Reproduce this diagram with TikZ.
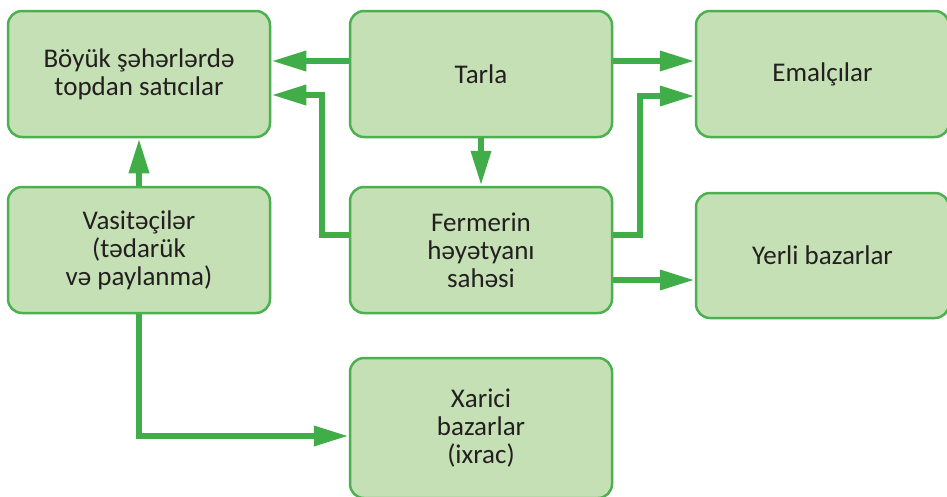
\documentclass[tikz,border=0pt]{standalone}
\usepackage{fontspec}
\setmainfont{Carlito}
\usetikzlibrary{arrows.meta}
\definecolor{boxfill}{HTML}{C5E0B4}
\definecolor{boxline}{HTML}{4CB050}
\definecolor{arrowgreen}{HTML}{41AD49}
\definecolor{txt}{HTML}{231F20}
\tikzset{
  box/.style={draw=boxline, line width=2.5pt, fill=boxfill, rounded corners=14pt,
    minimum width=262pt, minimum height=126pt, align=center, inner sep=0pt,
    text=txt, font=\fontsize{27}{28}\selectfont},
  flow/.style={draw=arrowgreen, line width=6.5pt,
    -{Triangle[length=35pt,width=19pt]}}
}
\begin{document}
\begin{tikzpicture}[x=1pt,y=-1pt]
\useasboundingbox (0,0) rectangle (947,496);
\node[box] (A) at (139,74) {Böyük şəhərlərdə\\topdan satıcılar};
\node[box] (T) at (481,74) {Tarla};
\node[box, minimum width=253pt] (E) at (822.5,74) {Emalçılar};
\node[box] (V) at (139,250) {Vasitəçilər\\(tədarük\\və paylanma)};
\node[box] (F) at (481,250) {Fermerin\\həyətyanı\\sahəsi};
\node[box, minimum width=253pt, minimum height=125pt] (Y) at (822.5,255.5) {Yerli bazarlar};
\node[box, minimum height=140pt] (X) at (481,428) {Xarici\\bazarlar\\(ixrac)};

\draw[flow] (T.west |- 0,61) -- (A.east |- 0,61);
\draw[flow] (F.west |- 0,235) -- (322,235) -- (322,95) -- (A.east |- 0,95);
\draw[flow] (T.south) -- (F.north);
\draw[flow] (V.north) -- (A.south);
\draw[flow] (T.east |- 0,61) -- (E.west |- 0,61);
\draw[flow] (F.east |- 0,235) -- (640,235) -- (640,96) -- (E.west |- 0,96);
\draw[flow] (F.east |- 0,280) -- (Y.west |- 0,280);
\draw[flow] (V.south) -- (139,436) -- (X.west |- 0,436);
\end{tikzpicture}
\end{document}
